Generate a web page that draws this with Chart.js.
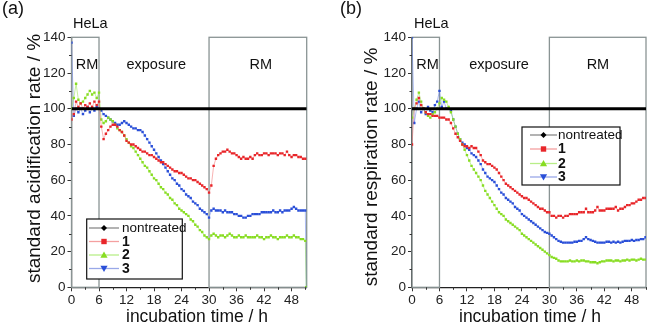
<!DOCTYPE html>
<html><head><meta charset="utf-8">
<script src="https://cdn.jsdelivr.net/npm/chart.js@4.4.1/dist/chart.umd.min.js"></script>
<style>
html,body{margin:0;padding:0;background:#fff;overflow:hidden;width:653px;height:327px}
#ca{position:absolute;left:0;top:0}
#cb{position:absolute;left:326px;top:0}
</style></head><body>
<canvas id="ca" width="326" height="327"></canvas>
<canvas id="cb" width="327" height="327"></canvas>
<script>
// ---------------- data ----------------
const times = [0,0.5,1,1.5,2,2.5,3,3.5,4,4.5, 5,5.5,6,6.5,7,7.5,8,8.5,9,9.5,
 10,10.5,11,11.5,12,12.5,13,13.5,14,14.5, 15,15.5,16,16.5,17,17.5,18,18.5,19,19.5,
 20,20.5,21,21.5,22,22.5,23,23.5,24,24.5, 25,25.5,26,26.5,27,27.5,28,28.5,29,29.5,
 30,30.5,31,31.5,32,32.5,33,33.5,34,34.5, 35,35.5,36,36.5,37,37.5,38,38.5,39,39.5,
 40,40.5,41,41.5,42,42.5,43,43.5,44,44.5, 45,45.5,46,46.5,47,47.5,48,48.5,49,49.5,
 50,50.5,51,51.2];
const xTicks = [0,6,12,18,24,30,36,42,48];
const yTicks = [0,20,40,60,80,100,120,140];
const seriesNames = ['nontreated','1','2','3'];
const phaseLabels = ['RM','exposure','RM'];
const nontreatedTimes = [0, 51.3];
const nontreatedValues = [100, 100];

// (a) standard acidification rate
const acid1 = [94,97,104,101,103,100,102,101,103,101, 104,102,104,90,83,86,88,90,91,91,
 90,88,87,85,82,81,80,80,79,78, 77,76,76,75,74,74,73,72,71,70,
 70,69,68,67,66,65,65,64,64,63, 62,61,61,60,60,59,58,57,56,55,
 53,57,68,72,74,75,76,76,77,76, 75,75,74,73,72,73,72,72,73,72,
 74,75,74,74,75,75,74,75,75,75, 74,75,75,74,76,74,73,74,74,73,
 73,72,72,null];
const acid2 = [100,106,114,105,103,104,106,108,110,108, 109,106,109,94,92,93,95,94,93,91,
 89,88,87,85,83,81,79,78,76,74, 72,70,68,67,65,63,61,60,58,56,
 55,53,52,50,49,47,46,44,43,42, 41,40,38,37,35,34,32,31,29,28,
 27,29,30,29,28,29,29,28,29,30, 29,28,28,29,28,28,29,28,28,28,
 28,29,28,28,27,28,28,29,28,28, 27,28,28,28,29,28,28,29,28,28,
 27,27,26,0];
const acid3 = [137,96,100,98,100,97,99,101,98,100, 99,101,100,99,97,96,95,94,93,92,
 91,91,92,93,92,91,90,89,89,88, 88,87,85,83,81,79,77,75,73,71,
 69,67,65,63,61,60,58,57,55,54, 52,51,50,48,47,46,44,43,42,41,
 39,43,44,43,43,43,42,43,42,42, 42,41,41,40,40,39,39,40,40,41,
 41,41,41,42,42,42,42,42,43,42, 42,43,42,43,43,43,44,45,44,43,
 43,43,43,0];

// (b) standard respiration rate
const resp1 = [80,100,103,106,102,100,98,97,97,96, 96,96,95,95,95,94,94,92,89,86,
 84,82,80,79,79,78,79,78,78,76, 74,71,70,69,69,68,67,66,64,62,
 60,58,57,56,55,54,53,52,51,50, 50,49,48,47,46,45,44,44,43,42,
 42,40,40,39,40,40,39,40,40,41, 41,41,41,42,42,42,44,42,42,42,
 43,45,43,43,43,44,44,44,44,45, 43,44,44,45,46,46,47,47,48,49,
 49,50,50,null];
const resp2 = [95,100,105,109,104,100,98,96,95,97, 98,100,103,106,105,104,101,98,94,90,
 86,83,80,77,74,71,68,66,64,62, 60,57,54,52,50,48,46,44,42,41,
 40,38,37,36,35,34,33,32,30,29, 28,27,26,25,24,23,22,21,20,19,
 18,17,16.5,16,15,14.5,14.5,14.5,14.5,15, 14.5,14.5,15,14.5,15,15,14.5,14.5,14,14,
 14,13.5,14,14.5,14.5,15,15,15,14.5,15, 15,14.5,15,15,15.5,15,15.5,15.5,15,15.5,
 16,15.5,15.5,null];
const resp3 = [140,92,100,104,98,100,97,101,99,98, 102,104,110,101,104,100,100,99,94,90,
 86,83,81,80,78,77,75,74,73,71, 69,66,64,62,61,60,59,57,55,53,
 52,50,49,48,47,45,44,43,41,40, 39,38,37,36,35,34,33,32,31,30.5,
 30,29,28,27,26,25.5,25,25,25,25, 25,25.5,25.5,26,26,27,28,27,26.5,26,
 25.5,25,25,25,25,25.5,25.5,25,25.5,25, 25.5,25,25.5,26,26,26,26.5,26,26.5,26.5,
 27,27,28,null];

// ---------------- drawing ----------------
const FF = '"Liberation Sans", Arial, Helvetica, sans-serif';
const COLORS = {
  point: ['#000000', '#e8262a', '#88dd22', '#2a4fd8'],
  line:  ['#000000', 'rgba(240,100,100,0.55)', 'rgba(150,225,80,0.6)', 'rgba(90,120,230,0.55)'],
  legendLine: ['#8a8a8a', '#f4a0a0', '#b8ee88', '#99a8e8']
};

function pts(xs, ys) { return xs.map((x, i) => ({x: x, y: ys[i]})); }

function drawMarker(ctx, kind, x, y, color) {
  ctx.fillStyle = color;
  ctx.beginPath();
  if (kind === 0) { ctx.moveTo(x, y - 3); ctx.lineTo(x + 3, y); ctx.lineTo(x, y + 3); ctx.lineTo(x - 3, y); }
  else if (kind === 1) { ctx.rect(x - 2.7, y - 2.7, 5.4, 5.4); }
  else if (kind === 2) { ctx.moveTo(x, y - 3.6); ctx.lineTo(x + 3.6, y + 2.8); ctx.lineTo(x - 3.6, y + 2.8); }
  else { ctx.moveTo(x, y + 3.6); ctx.lineTo(x + 3.6, y - 2.8); ctx.lineTo(x - 3.6, y - 2.8); }
  ctx.closePath(); ctx.fill();
}

function makeChart(id, s1, s2, s3, L) {
  const deco = {
    id: 'deco',
    beforeDatasetsDraw(chart) {
      const {ctx, scales: {x, y}} = chart;
      ctx.save();
      ctx.strokeStyle = '#8a9494'; ctx.lineWidth = 1.3;
      const yt = y.getPixelForValue(140), yb = y.getPixelForValue(0);
      [[0, 6], [30, x.max]].forEach(([a, b]) => {
        const xa = x.getPixelForValue(a), xb = x.getPixelForValue(b);
        ctx.strokeRect(xa, yt, xb - xa, yb - yt);
      });
      ctx.fillStyle = '#111'; ctx.font = '14.5px ' + FF;
      ctx.textAlign = 'center'; ctx.textBaseline = 'middle';
      L.phaseX.forEach((px, i) => ctx.fillText(phaseLabels[i], x.getPixelForValue(px), y.getPixelForValue(124.5)));
      ctx.restore();
    },
    afterDatasetsDraw(chart) {
      const {ctx, scales: {x, y}} = chart;
      ctx.save();
      ctx.strokeStyle = '#333'; ctx.lineWidth = 1;
      const y0 = y.getPixelForValue(0), x0 = x.getPixelForValue(0);
      ctx.beginPath();
      for (let v = 3; v < x.max; v += 6) { const p = Math.round(x.getPixelForValue(v)) + 0.5; ctx.moveTo(p, y0); ctx.lineTo(p, y0 + 2.5); }
      for (let v = 10; v < 140; v += 20) { const p = Math.round(y.getPixelForValue(v)) + 0.5; ctx.moveTo(x0, p); ctx.lineTo(x0 - 2.5, p); }
      ctx.stroke();
      const b = L.legBox;
      ctx.fillStyle = '#fff'; ctx.fillRect(b[0], b[1], b[2] - b[0], b[3] - b[1]);
      ctx.strokeStyle = '#111'; ctx.lineWidth = 1.2;
      ctx.strokeRect(b[0], b[1], b[2] - b[0], b[3] - b[1]);
      L.legRows.forEach((ry, i) => {
        ctx.strokeStyle = COLORS.legendLine[i]; ctx.lineWidth = 1.3;
        ctx.beginPath(); ctx.moveTo(L.legLine[0], ry); ctx.lineTo(L.legLine[1], ry); ctx.stroke();
        drawMarker(ctx, i, (L.legLine[0] + L.legLine[1]) / 2, ry, COLORS.point[i]);
        ctx.fillStyle = '#111';
        ctx.font = (i === 0 ? '13.5px ' : 'bold 14px ') + FF;
        ctx.textAlign = 'left'; ctx.textBaseline = 'middle';
        ctx.fillText(seriesNames[i], L.legText, ry + 0.5);
      });
      ctx.restore();
    },
    afterDraw(chart) {
      const ctx = chart.ctx;
      ctx.save();
      ctx.fillStyle = '#111';
      ctx.textBaseline = 'alphabetic'; ctx.textAlign = 'left';
      ctx.font = '18px ' + FF; ctx.fillText(L.panel, L.panelX, 14);
      ctx.font = '14.5px ' + FF; ctx.fillText('HeLa', L.helaX, 28);
      ctx.font = '17.5px ' + FF; ctx.textAlign = 'center';
      ctx.fillText('incubation time / h', L.xTitleX, 322);
      ctx.translate(L.yTitleX, L.yTitleY); ctx.rotate(-Math.PI / 2);
      ctx.font = '19px ' + FF; ctx.textBaseline = 'middle';
      ctx.fillText(L.yTitle, 0, 0);
      ctx.restore();
    }
  };

  const ds = (vals, i) => ({
    label: seriesNames[i], data: pts(times, vals),
    borderColor: COLORS.line[i], borderWidth: 0.9,
    pointStyle: 'rect', pointRadius: 1.7, pointBorderWidth: 0,
    pointBackgroundColor: COLORS.point[i], pointBorderColor: COLORS.point[i],
    spanGaps: false, tension: 0
  });

  return new Chart(document.getElementById(id), {
    type: 'line',
    data: { datasets: [
      { label: seriesNames[0], data: pts(nontreatedTimes, nontreatedValues), borderColor: '#000', borderWidth: 3, pointRadius: 0 },
      ds(s1, 1), ds(s2, 2), ds(s3, 3)
    ]},
    options: {
      responsive: false, animation: false, events: [],
      layout: { padding: { top: 37.3, right: L.padR, bottom: 0, left: 0 } },
      plugins: { legend: { display: false }, tooltip: { enabled: false } },
      scales: {
        x: {
          type: 'linear', min: 0, max: L.xmax,
          afterBuildTicks: s => { s.ticks = xTicks.map(v => ({value: v})); },
          afterFit: s => { s.height = 39.7; },
          ticks: { font: { size: 13.5, family: FF }, color: '#222', padding: 1, maxRotation: 0, autoSkip: false },
          grid: { drawOnChartArea: false, drawTicks: true, tickLength: 4, color: '#333', lineWidth: 1 },
          border: { display: true, color: '#222', width: 1.2 }
        },
        y: {
          type: 'linear', min: 0, max: 140,
          afterBuildTicks: s => { s.ticks = yTicks.map(v => ({value: v})); },
          afterFit: s => { s.width = L.yw; },
          ticks: { font: { size: 13.5, family: FF }, color: '#222', padding: 2, autoSkip: false },
          grid: { drawOnChartArea: false, drawTicks: true, tickLength: 4, color: '#333', lineWidth: 1 },
          border: { display: true, color: '#222', width: 1.2 }
        }
      }
    },
    plugins: [deco]
  });
}

makeChart('ca', acid1, acid2, acid3, {
  xmax: 51.3, yw: 71.5, padR: 19.3,
  phaseX: [3.4, 18.5, 41.3],
  legBox: [86.7, 219, 182.3, 279], legRows: [228, 241.5, 255, 268.5], legLine: [89, 119], legText: 122,
  panel: '(a)', panelX: 2, helaX: 73,
  xTitleX: 197, yTitleX: 34.5, yTitleY: 158.5,
  yTitle: 'standard acidification rate / %'
});
makeChart('cb', resp1, resp2, resp3, {
  xmax: 51.1, yw: 86, padR: 7,
  phaseX: [3.4, 19, 40.6],
  legBox: [196, 127, 294, 185], legRows: [135, 149, 163.5, 177], legLine: [204, 231], legText: 232,
  panel: '(b)', panelX: 14, helaX: 88,
  xTitleX: 204, yTitleX: 46, yTitleY: 167,
  yTitle: 'standard respiration rate / %'
});
</script>
</body></html>
